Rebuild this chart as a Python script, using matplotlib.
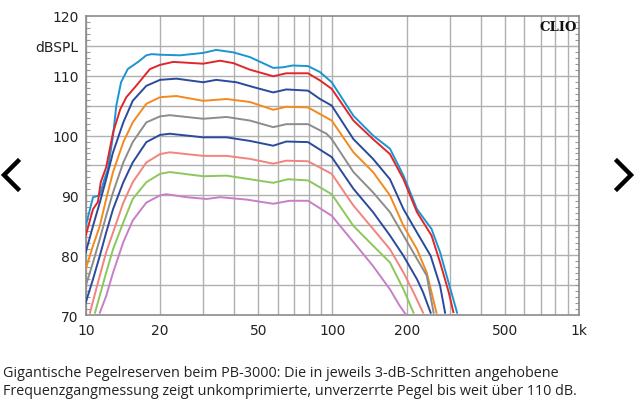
import numpy as np
import matplotlib.pyplot as plt
from matplotlib.lines import Line2D
from matplotlib.ticker import FixedLocator, NullFormatter, MultipleLocator

# frequency points (Hz) and levels (dB SPL), one list per curve
f_lightblue = [10, 10.7, 11.4, 11.9, 12.3, 12.9, 13.3, 13.9, 14.8, 16.3, 17.6, 18.5, 20, 24.1, 29.9, 33.8,
               39.6, 46.3, 51, 57.5, 63, 69, 79.6, 89, 99.3, 121.6, 146, 171, 194, 220, 252, 273, 298, 320]
l_lightblue = [84.9, 89.7, 90.0, 92.7, 94.4, 100.0, 105.0, 108.9, 111.1, 112.3, 113.4, 113.6, 113.5, 113.4,
               113.8, 114.3, 113.9, 113.1, 112.3, 111.3, 111.4, 111.7, 111.6, 110.6, 108.9, 103.3, 100.0,
               97.8, 93.3, 87.7, 84.4, 80.5, 74.9, 70.4]

f_red = [10, 10.7, 11.2, 11.5, 12.1, 12.9, 13.8, 14.6, 16.0, 18.2, 20, 22.6, 29.9, 35, 39.6, 46.3, 57.5,
         65, 79.6, 89, 99.3, 121.6, 146, 171, 194, 220, 252, 273, 296, 309]
l_red = [83.3, 87.7, 88.9, 92.2, 94.7, 100.5, 104.4, 106.4, 108.3, 111.1, 111.8, 112.3, 112.0, 112.5, 112.1,
         111.0, 109.9, 110.4, 110.4, 109.2, 107.8, 102.5, 99.4, 96.9, 92.7, 87.2, 83.3, 78.8, 73.8, 70.5]

f_blue1 = [10, 10.7, 11.4, 12.1, 12.9, 14.2, 15.5, 17.6, 20, 23.3, 29.9, 33.8, 40.8, 47.7, 57.5, 65,
           79.6, 89, 99.3, 121.6, 146, 171, 194, 220, 250, 273, 286]
l_blue1 = [80.5, 84.9, 88.8, 92.7, 97.2, 102.2, 105.8, 108.3, 109.3, 109.5, 108.9, 109.3, 108.9, 108.1,
           107.2, 107.7, 107.5, 106.1, 105.0, 99.4, 96.1, 92.7, 87.7, 83.8, 79.9, 74.9, 70.4]

f_orange = [10, 10.7, 11.4, 12.1, 12.9, 14.2, 15.5, 17.6, 20, 23.3, 29.9, 37.2, 46.3, 57.5, 65, 79.6,
            99.3, 121.6, 146, 171, 194, 220, 241, 264]
l_orange = [77.7, 81.6, 84.9, 89.4, 93.9, 98.9, 102.2, 105.3, 106.4, 106.6, 105.8, 106.1, 105.6, 104.3,
            104.8, 104.7, 102.5, 97.2, 93.9, 90.0, 84.9, 81.0, 77.1, 70.4]

f_gray = [10, 10.7, 11.4, 12.1, 12.9, 14.2, 15.5, 17.6, 20, 21.9, 29.9, 37.2, 46.3, 57.5, 65, 79.6,
          94.6, 99.3, 121.6, 146, 171, 194, 220, 241, 257]
l_gray = [74.9, 78.8, 82.7, 86.6, 90.5, 95.5, 98.9, 102.2, 103.2, 103.4, 102.8, 103.1, 102.5, 101.4,
          101.9, 101.9, 100.3, 99.4, 93.9, 90.5, 87.2, 83.3, 79.4, 76.6, 70.4]

f_blue2 = [10, 10.7, 11.4, 12.1, 12.9, 14.2, 15.5, 17.6, 20, 21.9, 29.9, 37.2, 46.3, 57.5, 65, 79.6,
           99.3, 121.6, 146, 171, 194, 220, 233, 250]
l_blue2 = [72.1, 76.0, 79.9, 83.8, 87.7, 92.2, 95.5, 98.9, 100.1, 100.3, 99.7, 99.7, 99.1, 98.3,
           99.0, 98.9, 96.4, 91.1, 87.2, 83.3, 79.9, 76.0, 73.8, 70.4]

f_pink = [10.4, 11.4, 12.1, 12.9, 14.2, 15.5, 17.6, 20, 21.9, 29.9, 37.2, 46.3, 57.5, 65, 79.6,
          99.3, 121.6, 146, 171, 194, 213, 233]
l_pink = [70.4, 76.6, 80.5, 83.8, 88.8, 92.2, 95.5, 96.9, 97.2, 96.6, 96.6, 96.1, 95.3, 95.8, 95.7,
          93.6, 88.3, 84.4, 81.0, 77.1, 73.8, 70.4]

f_green = [10.9, 12.1, 12.9, 14.2, 15.5, 17.6, 20, 21.9, 29.9, 37.2, 46.3, 57.5, 66, 79.6, 99.3,
           121.6, 146, 171, 194, 213]
l_green = [70.4, 77.1, 81.0, 85.5, 89.4, 92.2, 93.6, 93.9, 93.2, 93.3, 92.7, 92.1, 92.7, 92.5, 90.2,
           84.9, 81.6, 78.8, 74.3, 70.4]

f_violet = [11.4, 12.1, 12.9, 14.2, 15.5, 17.6, 20, 21.2, 25.6, 30.9, 35, 44.9, 57.5, 67, 79.6, 99.3,
            121.6, 146, 171, 187, 199]
l_violet = [70.4, 73.2, 77.1, 82.2, 85.8, 88.8, 90.0, 90.2, 89.7, 89.4, 89.7, 89.3, 88.6, 89.1, 89.1,
            86.6, 82.2, 78.2, 74.3, 71.6, 70.0]

curves = [
    (f_lightblue, l_lightblue, "#1b95d2"),
    (f_red, l_red, "#e1262b"),
    (f_blue1, l_blue1, "#2b4a9c"),
    (f_orange, l_orange, "#f28a1d"),
    (f_gray, l_gray, "#8c8c8c"),
    (f_blue2, l_blue2, "#2b4a9c"),
    (f_pink, l_pink, "#f2837f"),
    (f_green, l_green, "#8dc75b"),
    (f_violet, l_violet, "#c77fc6"),
]

y_ticks = [70, 80, 90, 100, 110, 115, 120]
y_labels = ["70", "80", "90", "100", "110", "dBSPL", "120"]
x_ticks = [10, 20, 50, 100, 200, 500, 1000]
x_labels = ["10", "20", "50", "100", "200", "500", "1k"]

caption = ("Gigantische Pegelreserven beim PB-3000: Die in jeweils 3-dB-Schritten angehobene\n"
           "Frequenzgangmessung zeigt unkomprimierte, unverzerrte Pegel bis weit über 110 dB.")

fig = plt.figure(figsize=(6.4, 4.1), dpi=100)
ax = fig.add_axes([0.134, 0.229, 0.771, 0.730])

ax.set_xscale("log")
ax.set_xlim(10, 1000)
ax.set_ylim(70, 120)

# grid
grid_x = list(range(10, 100, 10)) + list(range(100, 1001, 100))
for gx in grid_x:
    ax.axvline(gx, color="#b0b0b0", lw=1.0, zorder=0)
for gy in range(75, 120, 5):
    ax.axhline(gy, color="#b0b0b0", lw=1.0, zorder=0)

for f, l, c in curves:
    ax.plot(f, l, color=c, lw=1.4, zorder=3, clip_on=True)

ax.set_yticks(y_ticks)
ax.set_yticklabels(y_labels)
ax.xaxis.set_major_locator(FixedLocator(x_ticks))
ax.set_xticklabels(x_labels)
ax.xaxis.set_minor_formatter(NullFormatter())
ax.xaxis.set_minor_locator(FixedLocator([]))
ax.yaxis.set_minor_locator(MultipleLocator(1))
ax.tick_params(axis="both", which="major", length=0, labelsize=10, colors="#222222", pad=5)
ax.tick_params(axis="y", which="minor", direction="in", length=3, color="#999999",
               left=True, right=True, width=0.8)
ax.tick_params(axis="x", which="major", pad=6)

for s in ax.spines.values():
    s.set_color("#8a8a8a")
    s.set_linewidth(1.2)

ax.text(0.995, 0.985, "CLIO", transform=ax.transAxes, ha="right", va="top",
        fontsize=9.5, fontweight="bold", family="DejaVu Serif", color="#111111")

# navigation chevrons
W, H = 640, 410
left = Line2D([18 / W, 4 / W, 18 / W], [1 - 162 / H, 1 - 176 / H, 1 - 190 / H],
              transform=fig.transFigure, color="black", lw=3.2, solid_joinstyle="miter")
right = Line2D([617 / W, 631 / W, 617 / W], [1 - 162 / H, 1 - 176 / H, 1 - 190 / H],
               transform=fig.transFigure, color="black", lw=3.2, solid_joinstyle="miter")
fig.add_artist(left)
fig.add_artist(right)

fig.text(3 / W, 1 - 366 / H, caption, ha="left", va="top", fontsize=10.4,
         family="Open Sans", color="#222222", linespacing=1.3)

fig.savefig("out.png", dpi=100)
